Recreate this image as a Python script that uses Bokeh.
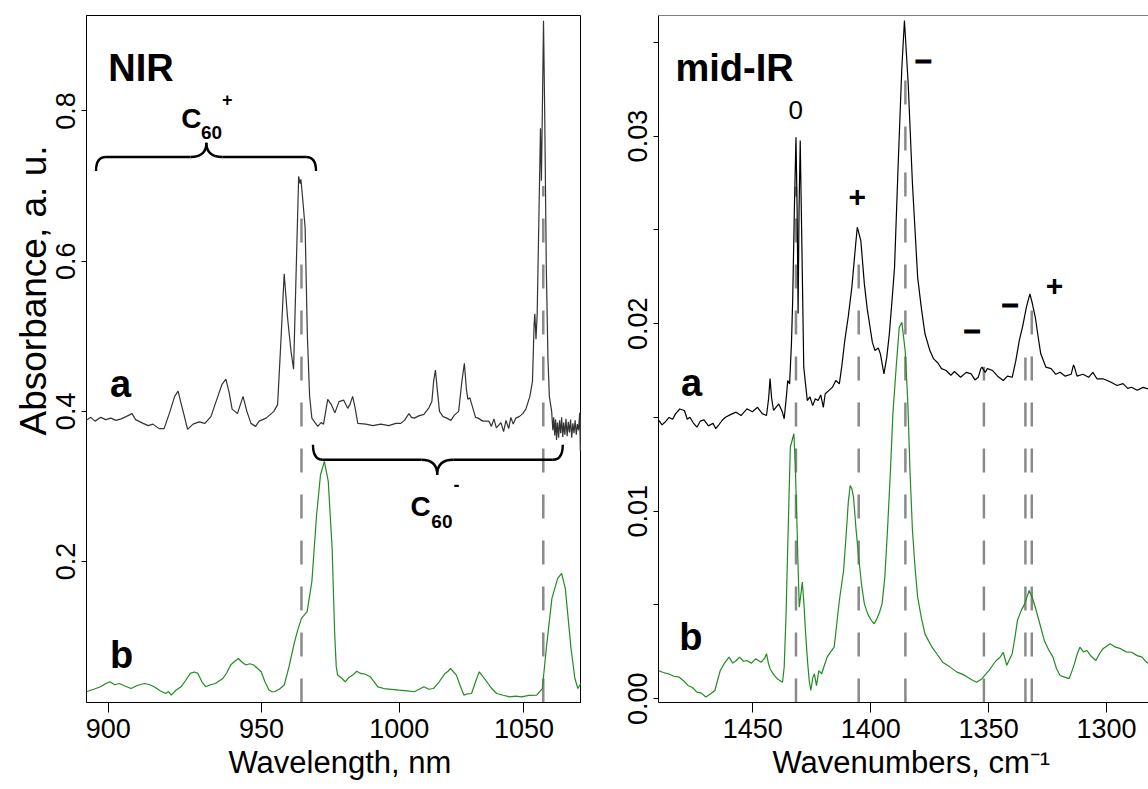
import math
from bokeh.plotting import figure
from bokeh.models import Range1d, FixedTicker, CustomJSTickFormatter, Span, Title
from bokeh.layouts import row
from bokeh.core.properties import value
from bokeh.embed import file_html
from bokeh.resources import INLINE

FONT = "Liberation Sans"

# ---------------- NIR panel data (wavelength nm, absorbance) ----------------
NIR_A = [
    (893.2, 0.388), (894.6, 0.392), (895.9, 0.387), (897.7, 0.392), (899.2, 0.389),
    (900.8, 0.391), (902.4, 0.388), (904.0, 0.390), (905.5, 0.393), (907.4, 0.397),
    (908.5, 0.389), (910.9, 0.384), (912.5, 0.381), (914.0, 0.383), (916.0, 0.377),
    (917.6, 0.377), (919.5, 0.400), (921.0, 0.420), (922.1, 0.427), (923.0, 0.412),
    (924.0, 0.396), (925.2, 0.376), (927.0, 0.383), (929.0, 0.386), (930.9, 0.384),
    (932.9, 0.393), (934.6, 0.413), (936.6, 0.436), (937.9, 0.443), (939.0, 0.425),
    (940.0, 0.403), (941.8, 0.397), (943.7, 0.420), (945.0, 0.400), (946.4, 0.384),
    (948.0, 0.380), (949.2, 0.387), (951.6, 0.391), (954.3, 0.400), (955.6, 0.409),
    (956.8, 0.497), (957.9, 0.583), (959.1, 0.524), (960.3, 0.480), (961.2, 0.456),
    (962.3, 0.613), (963.0, 0.713), (963.5, 0.703), (963.8, 0.709), (964.5, 0.680),
    (965.3, 0.644), (966.1, 0.500), (966.9, 0.420), (967.7, 0.391), (969.8, 0.380),
    (971.0, 0.385), (971.9, 0.383), (973.4, 0.416), (974.7, 0.409), (976.0, 0.398),
    (977.5, 0.413), (979.2, 0.415), (980.7, 0.404), (981.6, 0.410), (982.5, 0.420),
    (983.4, 0.405), (984.4, 0.384), (987.4, 0.383), (990.0, 0.381), (993.0, 0.383),
    (996.0, 0.381), (998.7, 0.384), (1000.6, 0.384), (1002.0, 0.388), (1003.7, 0.397),
    (1004.7, 0.392), (1005.8, 0.391), (1007.5, 0.394), (1009.5, 0.396), (1011.5, 0.405),
    (1012.6, 0.413), (1013.3, 0.440), (1014.0, 0.455), (1014.7, 0.430), (1015.6, 0.400),
    (1017.0, 0.393), (1018.5, 0.391), (1020.1, 0.388), (1021.5, 0.395), (1023.2, 0.400),
    (1024.5, 0.440), (1025.5, 0.464), (1026.3, 0.430), (1026.9, 0.416), (1027.7, 0.418),
    (1028.5, 0.409), (1030.0, 0.392), (1031.0, 0.391), (1033.0, 0.387), (1035.4, 0.387),
    (1036.5, 0.380), (1037.5, 0.390), (1038.5, 0.378), (1040.4, 0.385), (1041.5, 0.373),
    (1042.5, 0.388), (1043.6, 0.377), (1044.5, 0.392), (1045.5, 0.383), (1046.6, 0.391),
    (1048.0, 0.393), (1049.5, 0.397), (1050.8, 0.403), (1052.5, 0.420), (1053.6, 0.440),
    (1054.3, 0.517), (1054.6, 0.530), (1055.1, 0.496), (1055.6, 0.530), (1056.2, 0.636),
    (1057.0, 0.777), (1057.4, 0.707), (1057.8, 0.800), (1058.3, 0.920), (1058.8, 0.800),
    (1059.5, 0.590), (1060.2, 0.470), (1060.8, 0.420), (1061.8, 0.400), (1062.3, 0.375),
    (1062.7, 0.392), (1063.1, 0.368), (1063.5, 0.389), (1063.9, 0.362), (1064.3, 0.385),
    (1064.8, 0.365), (1065.2, 0.388), (1065.7, 0.371), (1066.1, 0.392), (1066.6, 0.366),
    (1067.0, 0.385), (1067.5, 0.369), (1068.0, 0.390), (1068.5, 0.367), (1069.0, 0.386),
    (1069.5, 0.372), (1070.0, 0.389), (1070.5, 0.365), (1071.0, 0.384), (1071.5, 0.371),
    (1072.0, 0.388), (1072.5, 0.369), (1073.0, 0.383), (1073.5, 0.375), (1074.0, 0.398),
    (1074.3, 0.347), (1074.7, 0.400),
]

NIR_B = [
    (893.2, 0.0267), (895.5, 0.030), (897.6, 0.0333), (899.0, 0.037), (900.5, 0.040),
    (902.0, 0.036), (903.5, 0.0377), (905.3, 0.034), (907.1, 0.031), (909.0, 0.035),
    (911.3, 0.0377), (913.0, 0.036), (914.4, 0.0333), (916.3, 0.028), (918.1, 0.0244),
    (919.0, 0.027), (919.9, 0.0223), (921.5, 0.029), (923.1, 0.0333), (924.6, 0.042),
    (926.1, 0.0511), (927.4, 0.053), (928.6, 0.0511), (929.9, 0.040), (931.2, 0.0333),
    (932.8, 0.036), (934.4, 0.0377), (935.6, 0.041), (936.9, 0.0444), (938.2, 0.052),
    (939.5, 0.0623), (940.8, 0.067), (942.1, 0.071), (943.4, 0.066), (944.7, 0.0623),
    (946.0, 0.064), (947.3, 0.0623), (948.6, 0.058), (949.9, 0.0533), (951.2, 0.040),
    (952.6, 0.029), (953.5, 0.027), (954.5, 0.0267), (956.2, 0.030), (957.9, 0.0356),
    (959.6, 0.060), (961.3, 0.089), (962.6, 0.108), (964.0, 0.1244), (966.0, 0.1333),
    (967.7, 0.1733), (969.4, 0.2623), (970.8, 0.3156), (972.2, 0.3333), (973.6, 0.3067),
    (975.0, 0.2177), (975.9, 0.1067), (976.5, 0.060), (977.0, 0.0489), (978.4, 0.045),
    (979.8, 0.040), (981.2, 0.046), (982.6, 0.0489), (984.0, 0.054), (985.5, 0.0511),
    (987.2, 0.050), (989.0, 0.0467), (990.5, 0.040), (991.9, 0.0333), (994.1, 0.031),
    (997.0, 0.030), (999.9, 0.029), (1003.0, 0.028), (1005.8, 0.0267), (1007.7, 0.030),
    (1009.5, 0.0333), (1011.4, 0.030), (1013.2, 0.031), (1015.5, 0.040), (1017.8, 0.0511),
    (1019.0, 0.054), (1020.0, 0.0577), (1021.2, 0.053), (1022.3, 0.0489), (1023.8, 0.035),
    (1025.3, 0.0223), (1026.8, 0.024), (1028.4, 0.0244), (1030.0, 0.040), (1031.5, 0.0533),
    (1033.0, 0.047), (1034.6, 0.040), (1036.6, 0.031), (1038.6, 0.0244), (1041.3, 0.022),
    (1044.1, 0.020), (1046.5, 0.021), (1048.9, 0.020), (1052.2, 0.022), (1055.4, 0.0223),
    (1057.8, 0.031), (1059.5, 0.0844), (1061.9, 0.151), (1064.4, 0.1777), (1066.1, 0.1844),
    (1067.7, 0.1644), (1070.2, 0.0844), (1071.9, 0.0444), (1073.2, 0.031), (1074.5, 0.0377),
]

NIR_TICKS_NM = [900, 950, 1000, 1050]
NIR_YTICKS = [0.2, 0.4, 0.6, 0.8]
NIR_DASH_NM = [964.0, 1058.2]
NIR_DASH_TOP = [0.66, 0.70]
NIR_LABEL_TEXT = ["NIR", "a", "b"]
NIR_LABEL_NM = [900.0, 900.5, 900.5]
NIR_LABEL_Y = [0.8577, 0.436, 0.075]
NIR_XLABEL = "Wavelength, nm"
NIR_YLABEL = "Absorbance, a. u."

# ---------------- mid-IR panel data (wavenumber cm-1, absorbance) ----------------
MIR_A = [
    (1490.0, 0.01487), (1488.5, 0.01460), (1487.3, 0.01474), (1485.5, 0.01500), (1484.0, 0.01490),
    (1482.8, 0.01519), (1481.0, 0.01545), (1479.0, 0.01537), (1477.8, 0.01490), (1476.7, 0.01501),
    (1475.2, 0.01470), (1473.7, 0.01448), (1472.3, 0.01480), (1470.7, 0.01487), (1468.8, 0.01455),
    (1466.9, 0.01469), (1465.7, 0.01440), (1464.6, 0.01457), (1463.0, 0.01485), (1461.6, 0.01501),
    (1459.5, 0.01515), (1457.1, 0.01528), (1455.0, 0.01510), (1452.5, 0.01546), (1450.2, 0.01530),
    (1448.0, 0.01554), (1446.0, 0.01520), (1444.2, 0.01510), (1443.3, 0.01600), (1442.7, 0.01707),
    (1442.0, 0.01600), (1441.2, 0.01537), (1439.0, 0.01572), (1437.5, 0.01530), (1436.7, 0.01493),
    (1435.7, 0.01620), (1435.2, 0.01697), (1434.4, 0.01679), (1433.6, 0.01900), (1433.1, 0.02123),
    (1432.4, 0.02600), (1431.7, 0.02994), (1431.2, 0.02600), (1430.8, 0.02054), (1430.4, 0.02600),
    (1429.9, 0.02976), (1429.3, 0.02500), (1428.4, 0.01768), (1426.9, 0.01590), (1425.8, 0.01610),
    (1424.6, 0.01563), (1423.5, 0.01600), (1422.3, 0.01590), (1421.2, 0.01620), (1420.1, 0.01554),
    (1419.3, 0.01626), (1417.8, 0.01643), (1416.3, 0.01660), (1414.8, 0.01697), (1413.3, 0.01679),
    (1412.2, 0.01780), (1411.0, 0.01910), (1409.5, 0.02040), (1408.0, 0.02194), (1406.5, 0.02407),
    (1405.7, 0.02514), (1404.2, 0.02443), (1402.7, 0.02212), (1401.5, 0.02080), (1400.4, 0.01990),
    (1399.3, 0.01900), (1398.2, 0.01857), (1396.8, 0.01870), (1395.9, 0.01839), (1394.4, 0.01732),
    (1393.2, 0.01820), (1392.1, 0.01946), (1390.8, 0.02150), (1389.9, 0.02301), (1388.4, 0.02834),
    (1386.8, 0.03367), (1385.7, 0.03616), (1384.1, 0.03278), (1382.3, 0.02745), (1380.1, 0.02247),
    (1378.5, 0.02080), (1377.0, 0.01946), (1375.0, 0.01860), (1373.3, 0.01812), (1371.5, 0.01790),
    (1370.0, 0.01760), (1368.0, 0.01750), (1366.0, 0.01725), (1364.5, 0.01745), (1361.9, 0.01714),
    (1359.5, 0.01740), (1357.4, 0.01732), (1355.8, 0.01700), (1354.4, 0.01714), (1353.3, 0.01760),
    (1352.8, 0.01768), (1351.5, 0.01740), (1350.5, 0.01760), (1348.3, 0.01750), (1346.2, 0.01720),
    (1343.8, 0.01697), (1342.0, 0.01720), (1340.0, 0.01714), (1338.5, 0.01800), (1337.0, 0.01910),
    (1335.5, 0.01990), (1334.0, 0.02087), (1332.5, 0.02159), (1331.5, 0.02110), (1330.2, 0.02034),
    (1329.0, 0.01930), (1327.9, 0.01839), (1325.7, 0.01768), (1323.5, 0.01760), (1321.5, 0.01730),
    (1319.7, 0.01741), (1317.5, 0.01720), (1315.0, 0.01730), (1314.0, 0.01780), (1313.6, 0.01768),
    (1312.5, 0.01720), (1310.0, 0.01730), (1307.6, 0.01714), (1305.8, 0.01740), (1304.0, 0.01705),
    (1301.5, 0.01706), (1298.5, 0.01690), (1295.5, 0.01670), (1293.0, 0.01680), (1291.0, 0.01655),
    (1289.4, 0.01661), (1287.0, 0.01645), (1284.5, 0.01660), (1282.2, 0.01652),
]

MIR_B = [
    (1490.0, 0.00151), (1488.0, 0.00140), (1485.8, 0.00133), (1483.5, 0.00120), (1481.2, 0.00115),
    (1479.3, 0.00095), (1477.5, 0.00071), (1475.6, 0.00060), (1473.7, 0.00035), (1471.8, 0.00030),
    (1469.9, 0.00009), (1468.0, 0.00025), (1466.1, 0.00044), (1464.9, 0.00100), (1463.8, 0.00151),
    (1462.0, 0.00190), (1460.1, 0.00222), (1458.5, 0.00190), (1457.0, 0.00204), (1455.6, 0.00222),
    (1454.0, 0.00200), (1452.5, 0.00204), (1450.6, 0.00190), (1448.8, 0.00213), (1446.5, 0.00195),
    (1445.0, 0.00215), (1444.2, 0.00240), (1443.4, 0.00190), (1442.7, 0.00160), (1441.2, 0.00130),
    (1439.7, 0.00107), (1437.4, 0.00088), (1436.7, 0.00168), (1435.9, 0.00450), (1435.2, 0.00808),
    (1434.6, 0.01100), (1434.1, 0.01341), (1432.6, 0.01413), (1432.0, 0.01250), (1431.4, 0.00986),
    (1430.8, 0.00700), (1430.3, 0.00488), (1429.6, 0.00560), (1429.0, 0.00622), (1428.3, 0.00500),
    (1427.6, 0.00346), (1426.8, 0.00200), (1426.1, 0.00098), (1425.4, 0.00044), (1424.6, 0.00110),
    (1423.9, 0.00133), (1423.0, 0.00070), (1422.0, 0.00150), (1420.8, 0.00133), (1419.6, 0.00180),
    (1418.5, 0.00222), (1417.0, 0.00250), (1415.5, 0.00275), (1414.4, 0.00400), (1413.3, 0.00524),
    (1411.5, 0.00684), (1410.3, 0.00897), (1409.5, 0.01050), (1408.7, 0.01137), (1408.0, 0.01120),
    (1407.3, 0.01075), (1406.2, 0.00900), (1405.0, 0.00737), (1403.8, 0.00600), (1402.7, 0.00506),
    (1401.2, 0.00450), (1399.7, 0.00417), (1398.5, 0.00400), (1397.4, 0.00426), (1396.3, 0.00460),
    (1395.2, 0.00506), (1394.0, 0.00650), (1392.9, 0.00897), (1391.7, 0.01200), (1390.6, 0.01519),
    (1389.1, 0.01786), (1387.9, 0.01981), (1386.8, 0.02007), (1385.4, 0.01857), (1384.3, 0.01590),
    (1383.3, 0.01200), (1382.3, 0.00897), (1381.2, 0.00700), (1380.1, 0.00542), (1378.5, 0.00430),
    (1377.0, 0.00346), (1375.5, 0.00310), (1374.0, 0.00275), (1372.0, 0.00240), (1369.5, 0.00195),
    (1366.5, 0.00170), (1363.4, 0.00142), (1361.0, 0.00130), (1358.9, 0.00115), (1357.0, 0.00100),
    (1355.1, 0.00088), (1352.8, 0.00107), (1351.3, 0.00130), (1349.8, 0.00151), (1348.2, 0.00180),
    (1346.8, 0.00204), (1345.2, 0.00220), (1343.8, 0.00248), (1342.3, 0.00178), (1340.0, 0.00240),
    (1338.8, 0.00330), (1337.8, 0.00417), (1336.2, 0.00470), (1334.7, 0.00506), (1332.8, 0.00577),
    (1331.5, 0.00540), (1330.2, 0.00488), (1328.3, 0.00400), (1326.4, 0.00311), (1324.5, 0.00260),
    (1322.7, 0.00222), (1321.2, 0.00160), (1319.7, 0.00124), (1317.8, 0.00115), (1315.9, 0.00107),
    (1314.6, 0.00150), (1313.6, 0.00187), (1312.4, 0.00240), (1311.3, 0.00275), (1309.8, 0.00250),
    (1308.3, 0.00257), (1306.4, 0.00225), (1304.5, 0.00204), (1303.0, 0.00240), (1301.5, 0.00267),
    (1300.0, 0.00280), (1298.5, 0.00293), (1296.2, 0.00275), (1294.0, 0.00267), (1291.7, 0.00250),
    (1289.4, 0.00248), (1287.0, 0.00230), (1284.9, 0.00222), (1283.5, 0.00200), (1282.2, 0.00187),
]

MIR_XTICKS = [1450, 1400, 1350, 1300]
MIR_YTICKS = [0.0, 0.005, 0.01, 0.015, 0.02, 0.025, 0.03, 0.035]
MIR_DASH_WN = [1431.7, 1405.1, 1385.3, 1352.0, 1334.4, 1331.7]
MIR_DASH_TOP = [0.0273, 0.0241, 0.0340, 0.0177, 0.0182, 0.0210]
MIR_LABEL_TEXT = ["mid-IR", "a", "b"]
MIR_LABEL_WN = [1482.8, 1480.5, 1481.2]
MIR_LABEL_Y = [0.03365, 0.01681, 0.00327]
CHARGE_TEXT = ["+", "+"]
CHARGE_WN = [1405.7, 1322.1]
CHARGE_Y = [0.02674, 0.02199]
MINUS_TEXT = ["\u2013", "\u2013", "\u2013"]
MINUS_WN = [1377.7, 1357.0, 1340.9]
MINUS_Y = [0.0341, 0.01967, 0.02107]
ZERO_TEXT = ["0"]
ZERO_WN = [1431.8]
ZERO_Y = [0.0314]
MIR_XLABEL = "Wavenumbers, cm\u207b\u00b9"

GREEN = "#228B22"
DASH_GRAY = "#8a8a8a"


def wn(nm):
    return 1e7 / nm


def style_axes(p):
    p.xgrid.visible = False
    p.ygrid.visible = False
    for ax in (p.xaxis[0], p.yaxis[0]):
        ax.axis_line_color = "black"
        ax.axis_line_width = 1
        ax.major_tick_line_color = "black"
        ax.major_tick_line_width = 1
        ax.minor_tick_line_color = None
        ax.major_tick_in = 0
        ax.major_label_text_font = FONT
        ax.major_label_text_color = "black"
    p.xaxis[0].major_label_text_font_size = "27px"
    p.yaxis[0].major_label_text_font_size = "27px"
    p.xaxis[0].major_tick_out = 10
    p.xaxis[0].major_label_standoff = 6
    p.yaxis[0].major_tick_out = 5
    p.yaxis[0].major_label_standoff = 6
    p.yaxis[0].major_label_orientation = "parallel"


def axis_title(p, text, side, align, offset, size, standoff):
    p.add_layout(Title(text=text, align=align, offset=offset, standoff=standoff,
                       text_font=FONT, text_font_size=size, text_font_style="normal",
                       text_color="black"), side)


def brace(p, nm_l, nm_r, nm_m, y_line, y_end, y_tip, d_end, d_mid):
    xl, xr, xm = wn(nm_l), wn(nm_r), wn(nm_m)
    p.segment(x0=[xl - d_end, xm - d_mid], y0=[y_line, y_line],
              x1=[xm + d_mid, xr + d_end], y1=[y_line, y_line],
              line_color="black", line_width=2.4)
    p.quadratic(x0=[xl, xm + d_mid, xm, xr + d_end],
                y0=[y_end, y_line, y_tip, y_line],
                x1=[xl - d_end, xm, xm - d_mid, xr],
                y1=[y_line, y_tip, y_line, y_end],
                cx=[xl, xm, xm, xr],
                cy=[y_line, y_line, y_line, y_line],
                line_color="black", line_width=2.4)


# ---------------- left: NIR ----------------
p1 = figure(width=581, height=789, output_backend="svg", toolbar_location=None,
            x_range=Range1d(wn(893.3), wn(1074.8)), y_range=Range1d(0.0124, 0.927),
            min_border_left=86, min_border_right=0, min_border_top=15, min_border_bottom=87,
            background_fill_color="white", border_fill_color="white")
p1.outline_line_color = "black"
p1.outline_line_width = 1
style_axes(p1)
p1.xaxis[0].ticker = FixedTicker(ticks=[wn(v) for v in NIR_TICKS_NM])
p1.xaxis[0].formatter = CustomJSTickFormatter(code="return Math.round(1e7/tick).toString();")
p1.yaxis[0].ticker = FixedTicker(ticks=NIR_YTICKS)
p1.yaxis[0].formatter = CustomJSTickFormatter(code="return tick.toFixed(1);")
axis_title(p1, NIR_XLABEL, "below", "left", 142, "31px", 4)
axis_title(p1, NIR_YLABEL, "left", "right", 130, "37px", 0)

p1.segment(x0=[wn(v) for v in NIR_DASH_NM], y0=[0.0124] * len(NIR_DASH_NM),
           x1=[wn(v) for v in NIR_DASH_NM], y1=NIR_DASH_TOP,
           line_color=DASH_GRAY, line_width=2.5, line_dash="24 22")
p1.line([wn(a) for a, b in NIR_A], [b for a, b in NIR_A], line_color="#333333", line_width=1.2)
p1.line([wn(a) for a, b in NIR_B], [b for a, b in NIR_B], line_color=GREEN, line_width=1.2)

brace(p1, 896.2, 969.2, 931.4, 0.7387, 0.72, 0.7577, 38, 61)
brace(p1, 968.1, 1066.6, 1014.7, 0.3356, 0.3556, 0.3156, 38, 61)

p1.text(x=[wn(v) for v in NIR_LABEL_NM], y=NIR_LABEL_Y, text=NIR_LABEL_TEXT,
        text_font=value(FONT), text_font_style="bold", text_font_size="38px",
        text_align="left", text_baseline="alphabetic", text_color="black")
# C60+ and C60- labels
p1.text(x=[wn(923.1), wn(1004.3)], y=[0.7893, 0.2733], text=["C", "C"],
        text_font=value(FONT), text_font_style="bold", text_font_size="28px",
        text_align="left", text_baseline="alphabetic", text_color="black")
p1.text(x=[wn(929.6), wn(1012.4)], y=[0.7707, 0.2533], text=["60", "60"],
        text_font=value(FONT), text_font_style="bold", text_font_size="19px",
        text_align="left", text_baseline="alphabetic", text_color="black")
p1.text(x=[wn(936.6), wn(1021.1)], y=[0.8147, 0.3027], text=["+", "-"],
        text_font=value(FONT), text_font_style="bold", text_font_size="18px",
        text_align="left", text_baseline="middle", text_color="black")

# ---------------- right: mid-IR ----------------
p2 = figure(width=567, height=789, output_backend="svg", toolbar_location=None,
            x_range=Range1d(1490.0, 1282.2), y_range=Range1d(-0.0002, 0.03643),
            min_border_left=77, min_border_right=0, min_border_top=15, min_border_bottom=87,
            background_fill_color="white", border_fill_color="white")
p2.outline_line_color = None
style_axes(p2)
p2.xaxis[0].ticker = FixedTicker(ticks=MIR_XTICKS)
p2.yaxis[0].ticker = FixedTicker(ticks=MIR_YTICKS)
p2.yaxis[0].formatter = CustomJSTickFormatter(
    code="const k = Math.round(tick*1000); return (k % 10 === 0) ? tick.toFixed(2) : '';")
p2.add_layout(Span(location=0.03643, dimension="width", line_color="black", line_width=1))
axis_title(p2, MIR_XLABEL, "below", "left", 114, "31px", 4)

p2.segment(x0=MIR_DASH_WN, y0=[-0.0002] * len(MIR_DASH_WN), x1=MIR_DASH_WN, y1=MIR_DASH_TOP,
           line_color=DASH_GRAY, line_width=2.5, line_dash="24 22")
p2.line([a for a, b in MIR_A], [b for a, b in MIR_A], line_color="black", line_width=1.2)
p2.line([a for a, b in MIR_B], [b for a, b in MIR_B], line_color=GREEN, line_width=1.2)

p2.text(x=MIR_LABEL_WN, y=MIR_LABEL_Y, text=MIR_LABEL_TEXT,
        text_font=value(FONT), text_font_style="bold", text_font_size="38px",
        text_align="left", text_baseline="alphabetic", text_color="black")
p2.text(x=ZERO_WN, y=ZERO_Y, text=ZERO_TEXT,
        text_font=value(FONT), text_font_size="26px",
        text_align="center", text_baseline="middle", text_color="black")
p2.text(x=CHARGE_WN, y=CHARGE_Y, text=CHARGE_TEXT,
        text_font=value(FONT), text_font_style="bold", text_font_size="30px",
        text_align="center", text_baseline="middle", text_color="black")
p2.text(x=MINUS_WN, y=MINUS_Y, text=MINUS_TEXT,
        text_font=value(FONT), text_font_style="bold", text_font_size="30px",
        text_align="center", text_baseline="middle", text_color="black",
        text_outline_color="black")

layout = row(p1, p2)
open("out.html", "w").write(file_html(layout, INLINE))
